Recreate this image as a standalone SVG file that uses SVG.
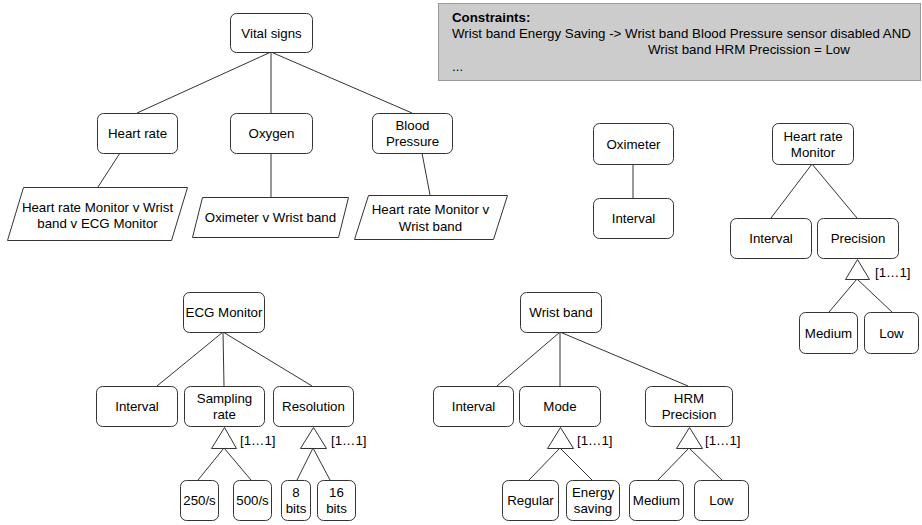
<svg xmlns="http://www.w3.org/2000/svg" width="922" height="525" viewBox="0 0 922 525">
  <style>
    .box { fill: #ffffff; stroke: #333333; stroke-width: 1; }
    .para { fill: #ffffff; stroke: #333333; stroke-width: 1; }
    .tri { fill: #ffffff; stroke: #333333; stroke-width: 1; }
    .edge { stroke: #333333; stroke-width: 1; fill: none; }
    text { font-family: "Liberation Sans", Arial, sans-serif; font-size: 13.3px; fill: #000000; }
    .c { text-anchor: middle; }
    .note { fill: #cccccc; stroke: #999999; stroke-width: 1; }
    .bold { font-weight: bold; }
  </style>
  <rect x="0" y="0" width="922" height="525" fill="#ffffff"/>

  <!-- connectors -->
  <g id="connectors">
    <path class="edge" d="M271 52 L137 113 M271 52 L271 113 M271 52 L412 113"/>
    <path class="edge" d="M120 153 L98 187 M271 153 L271 197 M422 153 L430 195"/>
    <path class="edge" d="M633 164 L633 198"/>
    <path class="edge" d="M812 164 L771 218 M812 164 L857 218"/>
    <path class="edge" d="M857 279 L829 312 M857 279 L892 312"/>
    <path class="edge" d="M223 332 L157 386 M223 332 L224 386 M223 332 L312 386"/>
    <path class="edge" d="M224 448 L198 480 M224 448 L251 480"/>
    <path class="edge" d="M313 448 L297 480 M313 448 L330 480"/>
    <path class="edge" d="M560 332 L497 386 M560 332 L560 386 M560 332 L688 386"/>
    <path class="edge" d="M560 448 L529 480 M560 448 L592 480"/>
    <path class="edge" d="M689 448 L658 480 M689 448 L722 480"/>
  </g>

  <!-- constraints note -->
  <g id="constraints">
    <rect class="note" x="438.5" y="3.5" width="482" height="77"/>
    <text x="452" y="22" class="bold">Constraints:</text>
    <text x="452" y="38">Wrist band Energy Saving -&gt; Wrist band Blood Pressure sensor disabled AND</text>
    <text x="648" y="54">Wrist band HRM Precission = Low</text>
    <text x="452" y="71">...</text>
  </g>

  <!-- vital signs tree -->
  <g id="vital-signs"><rect class="box" x="230.5" y="13.5" width="82" height="39" rx="6"/><text class="c" x="271.5" y="37.5">Vital signs</text></g>
  <g id="heart-rate"><rect class="box" x="97.5" y="113.5" width="80" height="40" rx="6"/><text class="c" x="137.5" y="138">Heart rate</text></g>
  <g id="oxygen"><rect class="box" x="230.5" y="113.5" width="82" height="40" rx="6"/><text class="c" x="271.5" y="138">Oxygen</text></g>
  <g id="blood-pressure"><rect class="box" x="372.5" y="113.5" width="80" height="40" rx="6"/><text class="c" x="412.5" y="130">Blood</text><text class="c" x="412.5" y="146">Pressure</text></g>
  <g id="hr-sources"><polygon class="para" points="23.5,187.5 187.5,187.5 171.5,240.5 7.5,240.5"/><text class="c" x="97.5" y="212">Heart rate Monitor v Wrist</text><text class="c" x="97.5" y="228">band v ECG Monitor</text></g>
  <g id="oxy-sources"><polygon class="para" points="202.5,197.5 348.5,197.5 338.5,237.5 192.5,237.5"/><text class="c" x="270.5" y="222">Oximeter v Wrist band</text></g>
  <g id="bp-sources"><polygon class="para" points="368.5,195.5 507.5,195.5 493.5,239.5 354.5,239.5"/><text class="c" x="430.5" y="214">Heart rate Monitor v</text><text class="c" x="430.5" y="231">Wrist band</text></g>

  <!-- oximeter -->
  <g id="oximeter"><rect class="box" x="593.5" y="123.5" width="80" height="41" rx="6"/><text class="c" x="633.5" y="148.5">Oximeter</text></g>
  <g id="oximeter-interval"><rect class="box" x="593.5" y="198.5" width="80" height="40" rx="6"/><text class="c" x="633.5" y="223">Interval</text></g>

  <!-- heart rate monitor -->
  <g id="hrm"><rect class="box" x="772.5" y="123.5" width="81" height="41" rx="6"/><text class="c" x="813" y="140.5">Heart rate</text><text class="c" x="813" y="156.5">Monitor</text></g>
  <g id="hrm-interval"><rect class="box" x="730.5" y="218.5" width="81" height="40" rx="6"/><text class="c" x="771" y="243">Interval</text></g>
  <g id="hrm-precision"><rect class="box" x="817.5" y="218.5" width="81" height="40" rx="6"/><text class="c" x="858" y="243">Precision</text></g>
  <g id="hrm-precision-group"><polygon class="tri" points="857.5,259.5 869.5,279.5 845.5,279.5"/><text x="875" y="277">[1…1]</text></g>
  <g id="hrm-medium"><rect class="box" x="799.5" y="312.5" width="58" height="41" rx="6"/><text class="c" x="828.5" y="337.5">Medium</text></g>
  <g id="hrm-low"><rect class="box" x="864.5" y="312.5" width="54" height="41" rx="6"/><text class="c" x="891.5" y="337.5">Low</text></g>

  <!-- ECG monitor -->
  <g id="ecg"><rect class="box" x="183.5" y="292.5" width="81" height="40" rx="6"/><text class="c" x="224" y="317">ECG Monitor</text></g>
  <g id="ecg-interval"><rect class="box" x="96.5" y="386.5" width="81" height="40" rx="6"/><text class="c" x="137" y="411">Interval</text></g>
  <g id="ecg-sampling"><rect class="box" x="184.5" y="386.5" width="80" height="40" rx="6"/><text class="c" x="224.5" y="403">Sampling</text><text class="c" x="224.5" y="419">rate</text></g>
  <g id="ecg-resolution"><rect class="box" x="273.5" y="386.5" width="80" height="40" rx="6"/><text class="c" x="313.5" y="411">Resolution</text></g>
  <g id="ecg-sampling-group"><polygon class="tri" points="224.5,427.5 236.5,448.5 211.5,448.5"/><text x="240" y="445">[1…1]</text></g>
  <g id="ecg-resolution-group"><polygon class="tri" points="313.5,427.5 326.5,448.5 300.5,448.5"/><text x="331" y="445">[1…1]</text></g>
  <g id="ecg-250"><rect class="box" x="180.5" y="480.5" width="38" height="40" rx="6"/><text class="c" x="199.5" y="505">250/s</text></g>
  <g id="ecg-500"><rect class="box" x="233.5" y="480.5" width="38" height="40" rx="6"/><text class="c" x="252.5" y="505">500/s</text></g>
  <g id="ecg-8bits"><rect class="box" x="281.5" y="480.5" width="29" height="40" rx="6"/><text class="c" x="296" y="497">8</text><text class="c" x="296" y="513">bits</text></g>
  <g id="ecg-16bits"><rect class="box" x="317.5" y="480.5" width="38" height="40" rx="6"/><text class="c" x="336.5" y="497">16</text><text class="c" x="336.5" y="513">bits</text></g>

  <!-- wrist band -->
  <g id="wristband"><rect class="box" x="520.5" y="292.5" width="81" height="40" rx="6"/><text class="c" x="561" y="317">Wrist band</text></g>
  <g id="wb-interval"><rect class="box" x="433.5" y="386.5" width="80" height="40" rx="6"/><text class="c" x="473.5" y="411">Interval</text></g>
  <g id="wb-mode"><rect class="box" x="519.5" y="386.5" width="81" height="40" rx="6"/><text class="c" x="560" y="411">Mode</text></g>
  <g id="wb-hrm-precision"><rect class="box" x="645.5" y="386.5" width="87" height="40" rx="6"/><text class="c" x="689" y="403">HRM</text><text class="c" x="689" y="419">Precision</text></g>
  <g id="wb-mode-group"><polygon class="tri" points="560.5,427.5 573.5,448.5 547.5,448.5"/><text x="577" y="445">[1…1]</text></g>
  <g id="wb-precision-group"><polygon class="tri" points="689.5,427.5 702.5,448.5 676.5,448.5"/><text x="705" y="445">[1…1]</text></g>
  <g id="wb-regular"><rect class="box" x="502.5" y="480.5" width="56" height="40" rx="6"/><text class="c" x="530.5" y="505">Regular</text></g>
  <g id="wb-energy"><rect class="box" x="566.5" y="480.5" width="53" height="40" rx="6"/><text class="c" x="593" y="497">Energy</text><text class="c" x="593" y="513">saving</text></g>
  <g id="wb-medium"><rect class="box" x="629.5" y="480.5" width="54" height="40" rx="6"/><text class="c" x="656.5" y="505">Medium</text></g>
  <g id="wb-low"><rect class="box" x="694.5" y="480.5" width="54" height="40" rx="6"/><text class="c" x="721.5" y="505">Low</text></g>
</svg>
